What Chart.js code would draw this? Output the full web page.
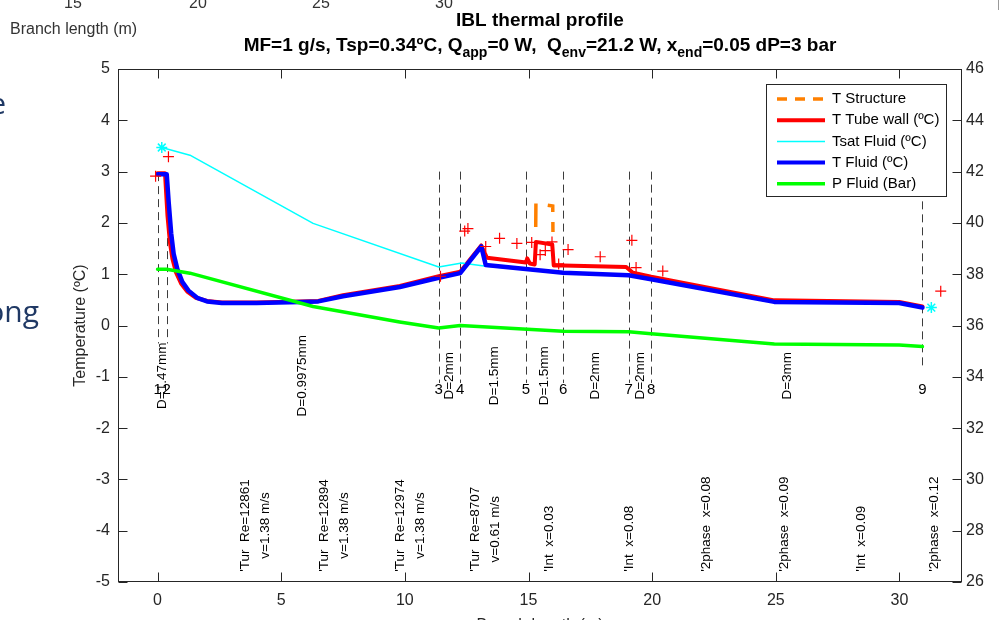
<!DOCTYPE html>
<html>
<head>
<meta charset="utf-8">
<script src="https://cdn.jsdelivr.net/npm/chart.js@4.4.1/dist/chart.umd.min.js"></script>
<style>
  html, body { margin: 0; padding: 0; background: #fff; overflow: hidden; }
  #wrap { position: relative; width: 1000px; height: 620px; }
</style>
</head>
<body>
<div id="wrap"><canvas id="chart" width="1000" height="620"></canvas></div>
<script>
// axis ticks
const xTicks = [0, 5, 10, 15, 20, 25, 30];
const tempTicks = [-5, -4, -3, -2, -1, 0, 1, 2, 3, 4, 5];
const presTicks = [26, 28, 30, 32, 34, 36, 38, 40, 42, 44, 46];

// T Fluid (ºC)
const fluidX = [0, 0.37, 0.45, 0.55, 0.65, 0.8, 1.0, 1.25, 1.6, 2.0, 2.6, 4.0, 5.8, 6.5, 7.5, 9.8, 11.37, 12.24, 13.09, 13.27, 16.4, 19.05, 19.96, 24.94, 29.99, 30.93];
const fluidT = [2.95, 2.95, 2.4, 1.8, 1.4, 1.1, 0.85, 0.68, 0.54, 0.47, 0.44, 0.44, 0.46, 0.47, 0.57, 0.75, 0.93, 1.02, 1.54, 1.18, 1.03, 0.98, 0.90, 0.46, 0.44, 0.35];

// T Tube wall (ºC)
const wallX = [0, 0.3, 0.4, 0.5, 0.6, 0.75, 0.95, 1.2, 1.55, 2.0, 2.6, 4.0, 5.8, 6.5, 7.5, 9.8, 11.37, 12.24, 13.09, 13.32, 14.9, 14.95, 15.05, 15.25, 15.3, 15.96, 16.02, 16.4, 18.95, 19.22, 19.96, 24.94, 29.99, 30.93];
const wallT = [2.97, 2.97, 2.15, 1.62, 1.3, 1.03, 0.82, 0.66, 0.54, 0.48, 0.45, 0.45, 0.47, 0.48, 0.59, 0.77, 0.96, 1.05, 1.56, 1.32, 1.23, 1.31, 1.21, 1.19, 1.63, 1.58, 1.17, 1.17, 1.14, 1.03, 0.95, 0.49, 0.46, 0.37];

// T Structure (ºC), only visible part
const structX = [15.28, 15.3, 15.98, 16.0];
const structT = [1.2, 2.38, 2.33, 1.2];

// Tsat Fluid (ºC)
const tsatX = [0.17, 1.31, 6.29, 11.37, 12.3, 13.2, 16.4, 19.05, 19.96, 24.94, 29.99, 30.93];
const tsatT = [3.47, 3.32, 1.99, 1.14, 1.22, 1.16, 1.02, 0.97, 0.89, 0.45, 0.43, 0.34];

// P Fluid (bar), right axis
const presX = [0, 0.37, 1.31, 6.29, 9.79, 11.37, 12.24, 16.4, 19.05, 19.96, 24.94, 29.99, 30.93];
const presBar = [38.19, 38.19, 38.04, 36.74, 36.14, 35.9, 36.0, 35.78, 35.76, 35.68, 35.28, 35.24, 35.18];

// measured points (red +) and Tsat end points (cyan *)
const probeX = [-0.08, 0.44, 11.44, 12.42, 12.55, 13.27, 13.83, 14.53, 15.13, 15.47, 15.68, 15.95, 16.22, 16.6, 17.9, 19.18, 19.35, 20.43, 31.67];
const probeT = [2.91, 3.29, 0.96, 1.84, 1.89, 1.54, 1.7, 1.6, 1.62, 1.38, 1.46, 1.63, 1.2, 1.48, 1.34, 1.66, 1.13, 1.06, 0.67];
const satMarkX = [0.17, 31.29];
const satMarkT = [3.47, 0.35];

// branch nodes
const nodeX = [0, 0.37, 11.37, 12.24, 14.9, 16.4, 19.05, 19.96, 30.93];
const nodeNames = ['1', '2', '3', '4', '5', '6', '7', '8', '9'];
const nodeTop = [2.97, 2.97, 3.0, 3.0, 3.0, 3.0, 3.0, 3.0, 2.42];
const nodeBottom = [-0.35, -0.35, -1.12, -1.12, -1.12, -1.12, -1.12, -1.12, -0.78];

// section diameters
const secX = [0.18, 5.87, 11.8, 13.6, 15.65, 17.72, 19.5, 25.45];
const secNames = ['D=1.47mm', 'D=0.9975mm', 'D=2mm', 'D=1.5mm', 'D=1.5mm', 'D=2mm', 'D=2mm', 'D=3mm'];

// flow regime labels
const regX = [3.94, 7.13, 10.2, 13.27, 15.85, 19.08, 22.18, 25.34, 28.44, 31.4];
const regNames = [
  ["'Tur  Re=12861", 'v=1.38 m/s'],
  ["'Tur  Re=12894", 'v=1.38 m/s'],
  ["'Tur  Re=12974", 'v=1.38 m/s'],
  ["'Tur  Re=8707", 'v=0.61 m/s'],
  ["'Int  x=0.03"],
  ["'Int  x=0.08"],
  ["'2phase  x=0.08"],
  ["'2phase  x=0.09"],
  ["'Int  x=0.09"],
  ["'2phase  x=0.12"]
];

const F = '"Liberation Sans", Arial, Helvetica, sans-serif';
const INK = '#262626';

const pts = (xs, ys) => xs.map((v, i) => ({ x: v, y: ys[i] }));

function rotText(ctx, lines, px, py, gap, centered) {
  ctx.save();
  ctx.translate(px, py);
  ctx.rotate(-Math.PI / 2);
  ctx.textBaseline = 'middle';
  const widths = lines.map(t => ctx.measureText(t).width);
  const w = Math.max(...widths);
  lines.forEach((t, i) => {
    const off = (i - (lines.length - 1) / 2) * gap;
    if (centered) {
      ctx.textAlign = 'center';
      ctx.fillText(t, 0, off);
    } else {
      ctx.textAlign = 'left';
      ctx.fillText(t, (w - widths[i]) / 2, off);
    }
  });
  ctx.restore();
}

const decor = {
  id: 'decor',
  beforeDatasetsDraw(chart) {
    const { ctx, scales: { x, y } } = chart;
    ctx.save();
    ctx.strokeStyle = '#3c3c3c';
    ctx.lineWidth = 1;
    ctx.setLineDash([8, 5]);
    nodeX.forEach((v, i) => {
      const px = Math.round(x.getPixelForValue(v)) + 0.5;
      ctx.beginPath();
      ctx.moveTo(px, y.getPixelForValue(nodeTop[i]));
      ctx.lineTo(px, y.getPixelForValue(nodeBottom[i]));
      ctx.stroke();
    });
    ctx.restore();
  },
  afterDraw(chart) {
    const { ctx, chartArea: a, scales: { x, y, p } } = chart;
    ctx.save();

    // axes box + inward ticks
    ctx.strokeStyle = INK;
    ctx.lineWidth = 1;
    const L = Math.round(a.left) + 0.5, R = Math.round(a.right) - 0.5;
    const T = Math.round(a.top) + 0.5, B = Math.round(a.bottom) - 0.5;
    ctx.strokeRect(L, T, R - L, B - T);
    ctx.beginPath();
    xTicks.forEach(v => {
      const px = Math.round(x.getPixelForValue(v)) + 0.5;
      ctx.moveTo(px, B); ctx.lineTo(px, B - 9);
      ctx.moveTo(px, T); ctx.lineTo(px, T + 9);
    });
    tempTicks.forEach(v => {
      const py = Math.round(y.getPixelForValue(v)) + 0.5;
      ctx.moveTo(L, py); ctx.lineTo(L + 9, py);
    });
    presTicks.forEach(v => {
      const py = Math.round(p.getPixelForValue(v)) + 0.5;
      ctx.moveTo(R, py); ctx.lineTo(R - 9, py);
    });
    ctx.stroke();

    // node numbers
    ctx.fillStyle = '#000';
    ctx.font = '15px ' + F;
    ctx.textAlign = 'center';
    ctx.textBaseline = 'middle';
    nodeX.forEach((v, i) => {
      ctx.fillText(nodeNames[i], x.getPixelForValue(v), y.getPixelForValue(-1.25));
    });

    // diameters
    ctx.font = '13.5px ' + F;
    secX.forEach((v, i) => {
      rotText(ctx, [secNames[i]], x.getPixelForValue(v), y.getPixelForValue(-0.98), 20, true);
    });

    // regimes
    regX.forEach((v, i) => {
      rotText(ctx, regNames[i], x.getPixelForValue(v), y.getPixelForValue(-4.8), 20, false);
    });

    // y label
    ctx.fillStyle = INK;
    ctx.font = '16px ' + F;
    ctx.save();
    ctx.translate(81, (a.top + a.bottom) / 2);
    ctx.rotate(-Math.PI / 2);
    ctx.textAlign = 'center';
    ctx.textBaseline = 'middle';
    ctx.fillText('Temperature (ºC)', 0, 0);
    ctx.restore();

    // x label (cut by window bottom)
    ctx.textAlign = 'center';
    ctx.textBaseline = 'alphabetic';
    ctx.fillText('Branch length (m)', (a.left + a.right) / 2, 630);

    // title
    const cx = (a.left + a.right) / 2;
    ctx.fillStyle = '#000';
    ctx.font = 'bold 19px ' + F;
    ctx.fillText('IBL thermal profile', cx, 26);
    const parts = [
      ['MF=1 g/s, Tsp=0.34ºC, Q', false], ['app', true], ['=0 W,  Q', false], ['env', true],
      ['=21.2 W, x', false], ['end', true], ['=0.05 dP=3 bar', false]
    ];
    const mainF = 'bold 19px ' + F, subF = 'bold 14px ' + F;
    let tw = 0;
    parts.forEach(([t, s]) => { ctx.font = s ? subF : mainF; tw += ctx.measureText(t).width; });
    let sx = cx - tw / 2;
    ctx.textAlign = 'left';
    parts.forEach(([t, s]) => {
      ctx.font = s ? subF : mainF;
      ctx.fillText(t, sx, s ? 57 : 51);
      sx += ctx.measureText(t).width;
    });

    // legend
    const lx = 766.5, ly = 84.5, lw = 180, lh = 112;
    ctx.fillStyle = '#fff';
    ctx.fillRect(lx, ly, lw, lh);
    ctx.strokeStyle = INK;
    ctx.lineWidth = 1;
    ctx.setLineDash([]);
    ctx.strokeRect(lx, ly, lw, lh);
    ctx.font = '15px ' + F;
    ctx.textBaseline = 'middle';
    chart.data.datasets.slice(0, 5).forEach((ds, i) => {
      const ry = 99 + i * 21.2;
      ctx.strokeStyle = ds.borderColor;
      ctx.lineWidth = Math.min(ds.borderWidth, 4);
      ctx.setLineDash(i === 0 ? [10, 8] : []);
      ctx.beginPath();
      ctx.moveTo(777, ry); ctx.lineTo(825, ry);
      ctx.stroke();
      ctx.fillStyle = '#000';
      ctx.fillText(ds.label, 832, ry);
    });
    ctx.setLineDash([]);

    // leftovers of the slide behind the figure
    ctx.fillStyle = '#333';
    ctx.font = '16px ' + F;
    ctx.textAlign = 'center';
    ctx.textBaseline = 'alphabetic';
    [['15', 73], ['20', 198], ['25', 321], ['30', 444]].forEach(([t, px]) => ctx.fillText(t, px, 8));
    ctx.textAlign = 'left';
    ctx.fillText('Branch length (m)', 10, 34);
    ctx.fillStyle = '#1f3864';
    ctx.font = '30px "Open Sans", sans-serif';
    ctx.textAlign = 'right';
    ctx.fillText('e', 6, 114);
    ctx.fillText('ong', 39, 322);
    ctx.fillStyle = '#999';
    ctx.fillRect(998, 0, 1, 10);

    ctx.restore();
  }
};

new Chart(document.getElementById('chart'), {
  type: 'line',
  data: {
    datasets: [
      { label: 'T Structure', data: pts(structX, structT), borderColor: '#ff8000', borderWidth: 3.5, borderDash: [0, 37, 23.5, 12, 11, 10, 10, 200], borderCapStyle: 'butt', borderJoinStyle: 'miter', pointRadius: 0, order: 6, yAxisID: 'y' },
      { label: 'T Tube wall (ºC)', data: pts(wallX, wallT), borderColor: '#ff0000', borderWidth: 4, pointRadius: 0, order: 5, yAxisID: 'y' },
      { label: 'Tsat Fluid (ºC)', data: pts(tsatX, tsatT), borderColor: '#00ffff', borderWidth: 1.5, pointRadius: 0, order: 4, yAxisID: 'y' },
      { label: 'T Fluid (ºC)', data: pts(fluidX, fluidT), borderColor: '#0000ff', borderWidth: 4.5, pointRadius: 0, order: 3, yAxisID: 'y' },
      { label: 'P Fluid (Bar)', data: pts(presX, presBar), borderColor: '#00ff00', borderWidth: 3.5, pointRadius: 0, order: 2, yAxisID: 'p' },
      { label: 'Tsat ends', type: 'scatter', data: pts(satMarkX, satMarkT), showLine: false, pointStyle: 'star', pointRadius: 5.5, borderColor: '#00ffff', backgroundColor: '#00ffff', pointBorderWidth: 1.5, order: 1, yAxisID: 'y' },
      { label: 'Probes', type: 'scatter', data: pts(probeX, probeT), showLine: false, pointStyle: 'cross', pointRadius: 5.5, borderColor: '#ff0000', backgroundColor: '#ff0000', pointBorderWidth: 1.2, order: 0, yAxisID: 'y' }
    ]
  },
  options: {
    responsive: false,
    animation: false,
    devicePixelRatio: 1,
    layout: { padding: { top: 69, left: 0, right: 0, bottom: 0 } },
    elements: { line: { tension: 0, borderJoinStyle: 'round', borderCapStyle: 'round' } },
    plugins: { legend: { display: false }, tooltip: { enabled: false }, title: { display: false } },
    scales: {
      x: {
        type: 'linear', min: -1.6, max: 32.53,
        grid: { display: false, drawTicks: false }, border: { display: false },
        afterBuildTicks: s => { s.ticks = xTicks.map(v => ({ value: v })); },
        afterFit: s => { s.height = 38; },
        ticks: { color: INK, font: { family: F, size: 16 }, padding: 9, maxRotation: 0 }
      },
      y: {
        type: 'linear', position: 'left', min: -5, max: 5,
        grid: { display: false, drawTicks: false }, border: { display: false },
        afterBuildTicks: s => { s.ticks = tempTicks.map(v => ({ value: v })); },
        afterFit: s => { s.width = 118; },
        ticks: { color: INK, font: { family: F, size: 16 }, padding: 8 }
      },
      p: {
        type: 'linear', position: 'right', min: 26, max: 46,
        grid: { display: false, drawTicks: false }, border: { display: false },
        afterBuildTicks: s => { s.ticks = presTicks.map(v => ({ value: v })); },
        afterFit: s => { s.width = 38; },
        ticks: { color: INK, font: { family: F, size: 16 }, padding: 4 }
      }
    }
  },
  plugins: [decor]
});
</script>
</body>
</html>
